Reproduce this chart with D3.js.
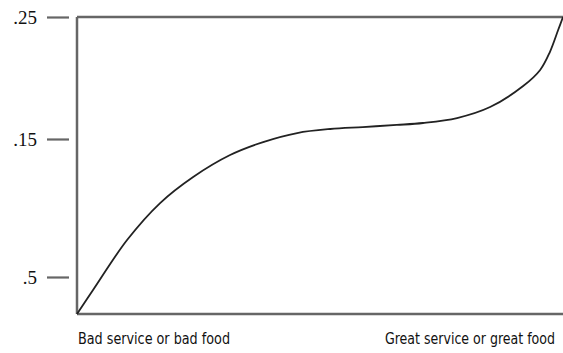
<!DOCTYPE html>
<html>
<head>
<meta charset="utf-8">
<script src="https://cdn.jsdelivr.net/npm/d3@7"></script>
<style>
  html, body { margin: 0; padding: 0; background: #fff; }
  svg { display: block; }
</style>
</head>
<body>
<div id="chart"></div>
<script>
// ---- data ----
const xLabels = ["Bad service or bad food", "Great service or great food"];
const yTickValues = [0.05, 0.15, 0.25];
const yTickLabels = [".5", ".15", ".25"];
const curveX = [0, 0.033, 0.103, 0.171, 0.239, 0.315, 0.383, 0.453, 0.521, 0.588, 0.658, 0.712, 0.782, 0.850, 0.918, 0.953, 0.973, 0.990, 1];
const curveY = [0, 0.0324, 0.0768, 0.1036, 0.1225, 0.1384, 0.1478, 0.1549, 0.1582, 0.1598, 0.1615, 0.1631, 0.1672, 0.1762, 0.1934, 0.2066, 0.2213, 0.2393, 0.25];

// ---- layout ----
const W = 563, H = 353;
const mLeft = 77, mRight = 563, mTop = 17, mBottom = 314;

const svg = d3.select("#chart").append("svg").attr("width", W).attr("height", H);

const x = d3.scaleLinear().domain([0, 1]).range([mLeft, mRight]);
const y = d3.scaleLinear().domain([0, 0.05, 0.15, 0.25]).range([mBottom, 277, 139, mTop]);

const axisColor = "#666";

// y axis ticks (detached from frame)
const yAxis = d3.axisLeft(y)
  .tickValues(yTickValues)
  .tickFormat((d, i) => yTickLabels[i])
  .tickSize(22)
  .tickSizeOuter(0)
  .tickPadding(10);
const gy = svg.append("g").attr("transform", `translate(${mLeft - 8},0)`).call(yAxis);
gy.select(".domain").remove();
gy.selectAll(".tick line").attr("stroke", axisColor).attr("stroke-width", 2.2);
gy.selectAll(".tick text")
  .attr("fill", "#111")
  .style("font-family", "'Liberation Serif', 'DejaVu Serif', serif")
  .style("font-size", "19px");

// frame: left, bottom, top
const frame = svg.append("g").attr("stroke", axisColor).attr("stroke-width", 2.5).attr("fill", "none");
frame.append("line").attr("x1", x(0)).attr("x2", x(0)).attr("y1", y(0.25)).attr("y2", y(0));
frame.append("line").attr("x1", x(0)).attr("x2", x(1)).attr("y1", y(0)).attr("y2", y(0));
frame.append("line").attr("x1", x(0)).attr("x2", x(1)).attr("y1", y(0.25)).attr("y2", y(0.25));

// curve
const pts = curveX.map((d, i) => [d, curveY[i]]);
const line = d3.line().x(d => x(d[0])).y(d => y(d[1])).curve(d3.curveCatmullRom.alpha(0.5));
svg.append("path").datum(pts)
  .attr("d", line)
  .attr("fill", "none")
  .attr("stroke", "#222")
  .attr("stroke-width", 1.8);

// x labels
const labFont = "'Liberation Sans Narrow', 'DejaVu Sans Condensed', 'Roboto', sans-serif";
svg.append("text")
  .attr("x", x(0) + 1).attr("y", 344)
  .attr("text-anchor", "start")
  .attr("textLength", 152).attr("lengthAdjust", "spacingAndGlyphs")
  .style("font-family", labFont).style("font-size", "16px").attr("fill", "#111")
  .text(xLabels[0]);
svg.append("text")
  .attr("x", 555).attr("y", 344)
  .attr("text-anchor", "end")
  .attr("textLength", 170).attr("lengthAdjust", "spacingAndGlyphs")
  .style("font-family", labFont).style("font-size", "16px").attr("fill", "#111")
  .text(xLabels[1]);
</script>
</body>
</html>
